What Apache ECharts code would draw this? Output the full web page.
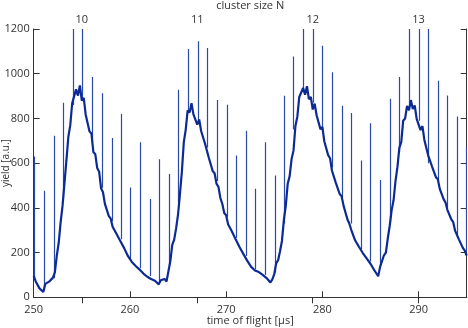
<!DOCTYPE html>
<html>
<head>
<meta charset="utf-8">
<script src="https://cdn.jsdelivr.net/npm/echarts@6/dist/echarts.min.js"></script>
<style>
html,body{margin:0;padding:0;background:#fff;}
#chart{width:468px;height:328px;}
</style>
</head>
<body>
<div id="chart"></div>
<script>
// time-of-flight sampling: start 250 µs, step 0.2 µs
var tofStart = 250.0;
var tofStep = 0.2;
// yield [a.u.] sampled every 0.2 µs from 250.0 to 295.0
var yieldValues = [
  96,72,66,40,38,24,60,64,70,62,
  88,112,186,244,336,410,512,612,718,770,
  868,862,930,902,948,880,892,818,812,742,
  732,650,640,578,562,488,470,418,414,364,
  352,316,314,284,281,252,254,220,214,184,
  180,158,162,140,140,124,128,106,108,92,
  98,82,90,74,72,58,76,72,82,70,
  116,162,234,258,308,370,462,562,694,750,
  836,826,868,818,822,772,796,744,746,688,
  692,624,618,565,555,508,494,444,418,377,
  367,327,331,294,287,258,258,224,218,193,
  190,163,160,136,133,120,125,113,116,100,
  104,86,88,66,80,104,152,166,206,252,
  346,410,508,542,618,656,766,808,896,890,
  936,906,944,886,896,840,866,814,818,752,
  762,698,702,636,622,566,562,512,506,462,
  452,410,402,349,330,302,298,255,251,226,
  226,198,197,174,168,150,146,121,116,94,
  136,143,188,200,264,320,390,434,520,582,
  668,694,790,800,856,836,882,842,858,798,
  806,748,766,704,698,634,630,585,582,537,
  528,485,484,439,424,390,390,349,336,297,
  290,258,252,221,209,186
];
// narrow spikes: position, curve level at foot, top value
var spikeTof = [250.03,251.07,252.07,253.04,254.05,255.01,256.08,257.05,258.09,259.06,
  260.06,261.06,262.06,263.03,264.04,265.04,266.04,267.04,268.05,269.05,
  270.05,271.06,272.02,273.03,274.02,275.03,276.04,277.0,278.0,279.0,
  280.0,281.0,282.0,283.0,284.0,285.0,286.0,287.0,288.0,289.0,
  290.0,291.0,292.0,293.0,294.0,294.95];
var spikeBase = [86,30,85,445,860,890,690,490,340,260,
  170,130,95,65,140,420,830,795,670,520,
  360,265,185,125,100,110,330,750,920,870,
  745,580,445,330,215,160,145,335,650,860,
  790,600,520,400,270,190];
var spikeTop = [630,476,722,870,1300,1300,985,913,712,820,
  491,694,440,618,552,928,1110,1145,1115,882,
  861,634,745,485,694,545,901,1077,1300,1300,
  1125,1007,857,824,612,779,525,888,985,1300,
  1300,1300,969,903,809,670];
// top axis: cluster size N
var clusterSizes = [10, 11, 12, 13];
var clusterTof = [255.0, 267.0, 279.0, 290.0];

var curve = yieldValues.map(function (v, i) {
  return [+(tofStart + i * tofStep).toFixed(2), v];
});
var spikes = spikeTof.map(function (t, i) { return [t, spikeBase[i], spikeTop[i]]; });

var font = 'Open Sans';
var axisCol = '#333';
var chart = echarts.init(document.getElementById('chart'), null, {renderer: 'canvas'});
chart.setOption({
  animation: false,
  backgroundColor: '#fff',
  grid: {left: 33.7, right: 1.3, top: 29, bottom: 30.7, containLabel: false, outerBoundsMode: 'none'},
  xAxis: [{
    type: 'value', position: 'bottom', min: 250, max: 295, interval: 10,
    name: 'time of flight [µs]', nameLocation: 'middle', nameGap: 18, nameMoveOverlap: false,
    nameTextStyle: {color: '#333', fontFamily: font, fontSize: 11},
    axisLine: {show: true, lineStyle: {color: axisCol, width: 1}},
    axisTick: {show: true, inside: true, length: 6, lineStyle: {color: axisCol}},
    axisLabel: {color: '#333', fontFamily: font, fontSize: 11, margin: 7,
      showMaxLabel: false, formatter: function (v) { return String(v); }},
    splitLine: {show: false}
  }, {
    type: 'value', position: 'top', min: 250, max: 295,
    name: 'cluster size N', nameLocation: 'middle', nameGap: 18, nameMoveOverlap: false,
    nameTextStyle: {color: '#333', fontFamily: font, fontSize: 11},
    axisLine: {show: true, lineStyle: {color: axisCol, width: 1}},
    axisTick: {show: true, inside: true, length: 6, customValues: clusterTof, lineStyle: {color: axisCol}},
    axisLabel: {color: '#333', fontFamily: font, fontSize: 11, margin: 4,
      customValues: clusterTof,
      formatter: function (v) {
        for (var i = 0; i < clusterTof.length; i++) {
          if (Math.abs(clusterTof[i] - v) < 1e-6) return String(clusterSizes[i]);
        }
        return '';
      }},
    splitLine: {show: false}
  }],
  yAxis: [{
    type: 'value', position: 'left', min: 0, max: 1200, interval: 200,
    name: 'yield [a.u.]', nameLocation: 'middle', nameGap: 23, nameMoveOverlap: false,
    nameTextStyle: {color: '#333', fontFamily: font, fontSize: 10},
    axisLine: {show: true, lineStyle: {color: axisCol, width: 1}},
    axisTick: {show: true, inside: true, length: 6, lineStyle: {color: axisCol}},
    axisLabel: {color: '#333', fontFamily: font, fontSize: 11, margin: 4,
      formatter: function (v) { return String(v); }},
    splitLine: {show: false}
  }, {
    type: 'value', position: 'right', min: 0, max: 1200, interval: 200,
    axisLine: {show: true, lineStyle: {color: axisCol, width: 1}},
    axisTick: {show: true, inside: true, length: 6, lineStyle: {color: axisCol}},
    axisLabel: {show: false},
    splitLine: {show: false}
  }],
  series: [{
    type: 'custom',
    xAxisIndex: 0, yAxisIndex: 0,
    data: spikes,
    clip: true,
    z: 2,
    renderItem: function (params, api) {
      var p0 = api.coord([api.value(0), api.value(1)]);
      var p1 = api.coord([api.value(0), api.value(2)]);
      var top = params.coordSys.y;
      var x = Math.round(p0[0]) + 0.5;
      return {
        type: 'line',
        shape: {x1: x, y1: p0[1], x2: x, y2: Math.max(p1[1], top)},
        style: {stroke: '#2b4aa6', lineWidth: 1.2}
      };
    }
  }, {
    type: 'line',
    xAxisIndex: 0, yAxisIndex: 0,
    data: curve,
    showSymbol: false,
    symbol: 'none',
    z: 3,
    lineStyle: {color: '#0c2a95', width: 2.2}
  }]
});
</script>
</body>
</html>
